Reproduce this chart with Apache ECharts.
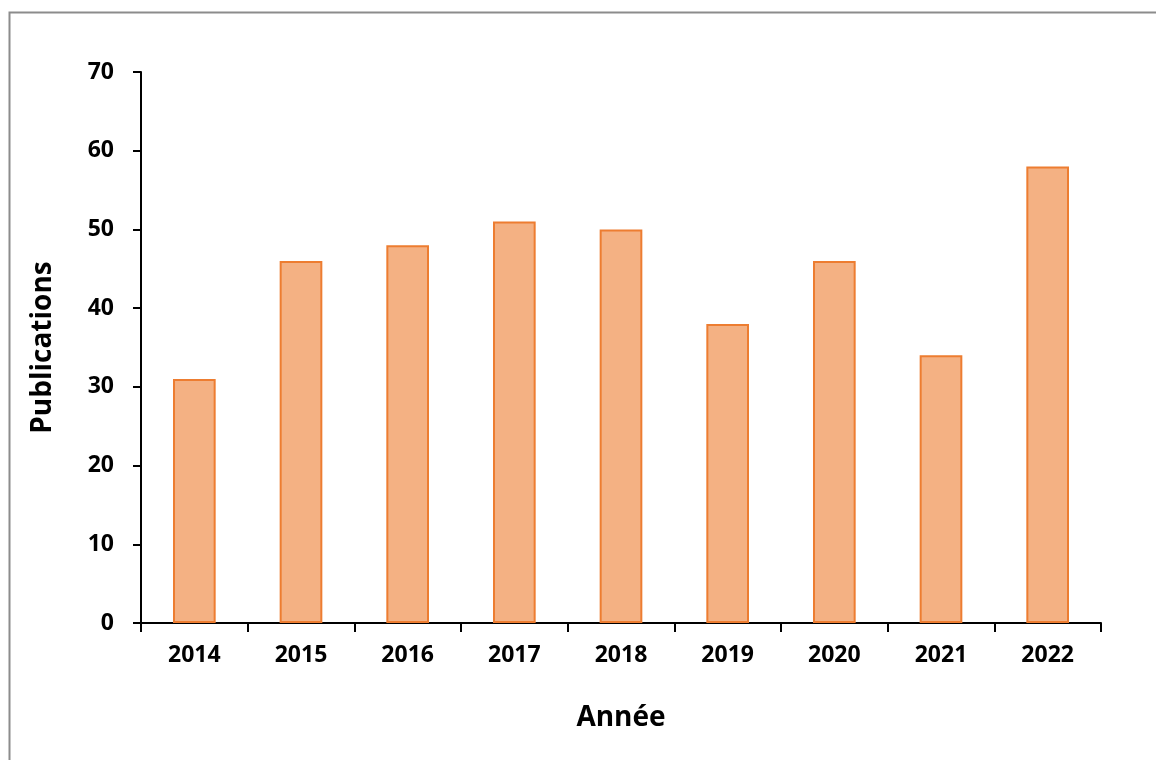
<!DOCTYPE html>
<html><head><meta charset="utf-8">
<script src="https://cdn.jsdelivr.net/npm/echarts@6/dist/echarts.min.js"></script>
<style>html,body{margin:0;padding:0;background:#fff}#c{width:1156px;height:760px}</style>
</head><body><div id="c"></div>
<script>
const categories = ['2014','2015','2016','2017','2018','2019','2020','2021','2022'];
const publications = [31, 46, 48, 51, 50, 38, 46, 34, 58];
const yTicks = [0, 10, 20, 30, 40, 50, 60, 70];

const FONT = '"Open Sans"';
const chart = echarts.init(document.getElementById('c'), null, {renderer: 'canvas'});
chart.setOption({
  animation: false,
  backgroundColor: '#fff',
  graphic: [{
    type: 'rect', left: 7, top: 10, shape: {width: 1200, height: 800},
    style: {fill: 'none', stroke: '#8c8c8c', lineWidth: 2}, silent: true, z: -1
  }],
  grid: {left: 141, top: 72, right: 55, bottom: 137},
  xAxis: {
    type: 'category', data: categories,
    name: 'Année', nameLocation: 'middle', nameGap: 81,
    nameTextStyle: {fontFamily: FONT, fontWeight: 'bold', fontSize: 28, color: '#000'},
    axisLine: {lineStyle: {color: '#000', width: 2}},
    axisTick: {show: true, alignWithLabel: false, length: 9, lineStyle: {color: '#000', width: 2}},
    axisLabel: {fontFamily: FONT, fontWeight: 'bold', fontSize: 23, color: '#000', margin: 21}
  },
  yAxis: {
    type: 'value', min: yTicks[0], max: yTicks[yTicks.length - 1], interval: 10,
    name: 'Publications', nameLocation: 'middle', nameGap: 84,
    nameTextStyle: {fontFamily: FONT, fontWeight: 'bold', fontSize: 28, color: '#000'},
    axisLine: {show: true, lineStyle: {color: '#000', width: 2}},
    axisTick: {show: true, length: 8, lineStyle: {color: '#000', width: 2}},
    splitLine: {show: false},
    axisLabel: {fontFamily: FONT, fontWeight: 'bold', fontSize: 23, color: '#000', margin: 27}
  },
  series: [{
    type: 'bar', data: publications, barWidth: '40%',
    itemStyle: {color: '#F4B183', borderColor: '#ED7D31', borderWidth: 2}
  }]
});
</script></body></html>
